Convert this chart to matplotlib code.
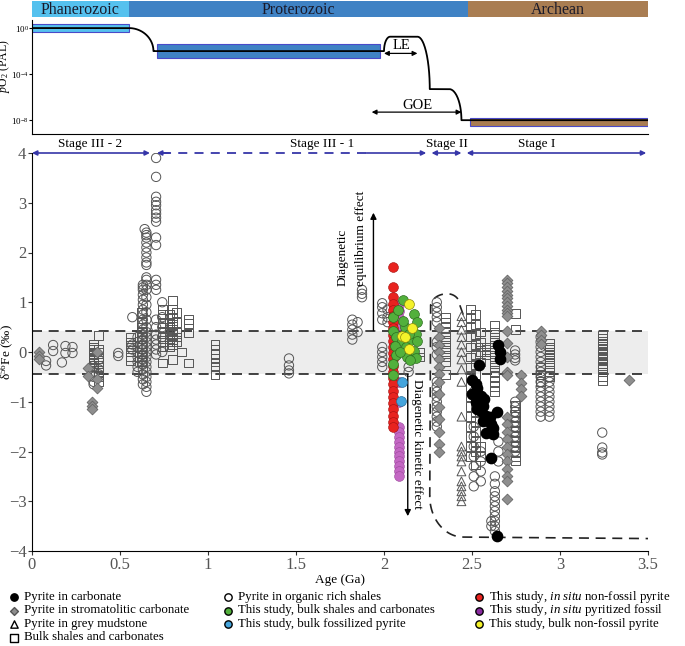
import numpy as np
import matplotlib.pyplot as plt
from matplotlib.patches import Rectangle

plt.rcParams['font.family'] = ['Liberation Serif', 'DejaVu Serif']
plt.rcParams['mathtext.fontset'] = 'custom'
plt.rcParams['mathtext.rm'] = 'Liberation Serif'
plt.rcParams['mathtext.it'] = 'Liberation Serif:italic'
plt.rcParams['mathtext.bf'] = 'Liberation Serif:bold'

# ---- eras / pO2 history (top panel) ----
era_names = ['Phanerozoic', 'Proterozoic', 'Archean']
era_bounds = [0.0, 0.55, 2.48, 3.5]
era_colors = ['#55C1EE', '#3F82C4', '#A97D52']

po2_box_age = [(0.0, 0.55), (0.71, 1.98), (2.49, 3.5)]
po2_box_log = [(-0.35, 0.38), (-2.56, -1.4), (-8.52, -7.77)]

# pO2 curve: (start age, end age, start log pO2, end log pO2, kind)
po2_segments = [
    (0.0, 0.55, 0.0, 0.0, 'flat'),
    (0.55, 0.69, 0.0, -2.0, 'down'),
    (0.69, 2.0, -2.0, -2.0, 'flat'),
    (2.0, 2.035, -2.0, -0.75, 'up'),
    (2.035, 2.19, -0.75, -0.75, 'flat'),
    (2.19, 2.26, -0.75, -5.3, 'down'),
    (2.26, 2.37, -5.3, -5.3, 'flat'),
    (2.37, 2.44, -5.3, -8.0, 'down'),
    (2.44, 3.5, -8.0, -8.0, 'flat'),
]

# ---- d56Fe data: (age Ga, [values]) ----
shale_cols = [  # pyrite in organic rich shales
    (0.08, [-0.18, -0.27]), (0.12, [0.14, 0.02]), (0.17, [-0.21]),
    (0.19, [0.12, -0.02]), (0.23, [0.1, -0.02]),
    (0.35, [-0.28, -0.4, -0.5, -0.6, -0.65]), (0.38, [-0.15, -0.35, -0.45]),
    (0.49, [-0.02, -0.08]), (0.57, [0.7, 0.15, 0.05]),
    (0.60, [0.3, 0.2, 0.1, 0.0, -0.1, -0.2, -0.3, -0.4]),
    (0.63, [1.35, 1.3, 1.25, 1.15, 1.05, 0.95, 0.85, 0.75, 0.65, 0.55, 0.45, 0.35,
            0.25, 0.15, 0.05, -0.05, -0.15, -0.25, -0.35, -0.45, -0.55, -0.65]),
    (0.64, [2.47]),
    (0.65, [2.4, 2.35, 2.3, 2.2, 2.1, 2.0, 1.9, 1.8, 1.75, 1.5, 1.45, 1.35, 1.25, 1.1,
            0.95, 0.8, 0.65, 0.5, 0.4, 0.3, 0.2, 0.1, 0.0, -0.1, -0.2, -0.3, -0.4,
            -0.5, -0.6, -0.7, -0.8]),
    (0.705, [3.9, 3.52, 3.12, 3.02, 2.95, 2.85, 2.78, 2.7, 2.62, 2.3, 2.15, 1.45,
             1.35, 1.25, 0.65, 0.5, 0.35, 0.25, 0.15, 0.05, -0.05]),
    (0.74, [1.0, 0.7, 0.5, 0.3, 0.0]),
    (1.46, [-0.13, -0.27, -0.37, -0.43]),
    (1.82, [0.65, 0.55, 0.45, 0.35, 0.25]), (1.85, [0.6, 0.4]),
    (1.875, [1.25, 1.17, 1.1]),
    (1.99, [0.98, 0.9, 0.78, 0.65, 0.1, 0.0, -0.1, -0.2, -0.3]),
    (2.02, [0.85, 0.7, 0.6]), (2.14, [-0.3, -0.4]),
    (2.30, [1.0, 0.9, 0.8, 0.7, 0.6, 0.2, 0.1, -0.05, -0.6, -0.7, -0.8, -0.9, -1.0,
            -1.1, -1.2, -1.3, -1.4, -1.5]),
    (2.51, [-0.6, -0.8, -1.5, -1.7, -1.9, -2.1, -2.3, -2.5, -2.7]),
    (2.55, [-2.0, -2.2, -2.4, -2.6]),
    (2.63, [-2.5, -2.65, -2.8, -2.9, -3.0, -3.1, -3.2, -3.3, -3.4, -3.5, -3.6]),
    (2.61, [-3.4, -3.5]), (2.65, [-1.8, -2.0, -2.2]),
    (2.745, [0.03, -0.05, -0.12, -0.17, -1.0, -1.1, -1.2, -1.3, -1.4, -1.5, -1.6,
             -1.7, -1.8, -1.9, -2.0]),
    (2.89, [0.3, 0.2, 0.1, 0.0, -0.1, -0.2, -0.3, -0.4, -0.5, -0.6, -0.7, -0.8,
            -0.9, -1.0, -1.1, -1.2, -1.3]),
    (2.94, [-0.5, -0.6, -0.7, -0.8, -0.9, -1.0, -1.1, -1.2, -1.3]),
    (3.24, [-1.62, -1.92, -2.02, -2.06]),
]

bulk_cols = [  # bulk shales and carbonates
    (0.35, [0.15, 0.1, 0.05, 0.0, -0.05, -0.1, -0.15, -0.2, -0.3]),
    (0.38, [0.33, 0.05, 0.0, -0.1, -0.2, -0.3, -0.4, -0.5, -0.6]),
    (0.56, [0.3, 0.2, 0.1, 0.0, -0.1, -0.17]),
    (0.62, [0.8, 0.6, 0.5, 0.4, 0.3, 0.1, 0.0, -0.1, -0.2]),
    (0.74, [0.85, 0.75, 0.6, 0.5, 0.4, 0.3, 0.2, 0.1, -0.22]),
    (0.78, [0.75, 0.6, 0.5, 0.4, 0.3, 0.2, 0.1]),
    (0.80, [1.04, 0.85, 0.7, 0.55, 0.45, 0.35, 0.25, 0.15, -0.15]),
    (0.82, [0.8, 0.6, 0.4, 0.3, 0.2]), (0.85, [0.0]),
    (0.89, [0.65, 0.58, 0.38, -0.22]),
    (1.04, [0.15, 0.05, -0.05, -0.12, -0.2, -0.3, -0.45]),
    (2.20, [0.0, -0.1]),
    (2.35, [0.7, 0.6, 0.5, 0.4, 0.3, 0.2, 0.1, 0.0, -0.1, -0.2, -0.45]),
    (2.49, [0.86, 0.7, 0.5, 0.3, 0.1, -0.1, -0.3, -0.5, -0.7, -0.9, -1.1, -1.3,
            -1.5, -1.7, -1.9, -2.1]),
    (2.52, [0.75, 0.55, 0.35, 0.15, -0.05, -0.25, -0.45, -1.0, -1.2, -1.4, -1.6,
            -1.8, -2.0, -2.27]),
    (2.55, [0.4, 0.2, 0.1, 0.0, -0.2, -1.9, -2.1]),
    (2.58, [0.1, 0.05, 0.0, -0.05]),
    (2.63, [0.53, 0.4, 0.3, 0.2, 0.1, 0.0, -0.1, -0.2, -0.3, -0.4, -0.5, -0.6,
            -0.7, -0.8]),
    (2.745, [0.78, 0.45, -1.08, -1.2, -1.3, -1.4, -1.5, -1.6, -1.7, -1.8, -1.9,
             -2.0, -2.1, -2.19]),
    (2.89, [-0.3, -0.45, -0.6]),
    (2.94, [0.17, 0.1, 0.05, 0.0, -0.05, -0.1, -0.2, -0.3, -0.4, -0.5]),
    (3.24, [0.33, 0.28, 0.22, 0.17, 0.12, 0.07, 0.02, -0.03, -0.08, -0.13, -0.18,
            -0.23, -0.28, -0.33, -0.4, -0.5, -0.57]),
]

strom_cols = [  # pyrite in stromatolitic carbonate
    (0.04, [0.0, -0.08, -0.15]), (0.32, [-0.33, -0.48]),
    (0.34, [-1.0, -1.08, -1.15]), (0.37, [0.0, -0.55, -0.72]),
    (2.31, [0.49, 0.3, 0.15, 0.0, -0.15, -0.3, -0.45, -0.6, -0.85, -1.1, -1.35,
            -1.6, -1.85, -2.0]),
    (2.70, [1.45, 1.38, 1.3, 1.22, 1.15, 1.08, 1.0, 0.92, 0.85, 0.78, 0.72, 0.43,
            0.19, -0.1, -0.41, -0.47, -1.3, -1.45, -1.6, -1.75, -1.9, -2.05, -2.2,
            -2.35, -2.5, -2.6, -2.96]),
    (2.78, [-0.47, -0.62, -0.75, -0.88]),
    (2.89, [0.43, 0.35, 0.25, 0.17]), (3.39, [-0.56]),
]

mud_cols = [  # pyrite in grey mudstone
    (2.44, [0.72, 0.6, 0.45, 0.3, 0.15, 0.0, -0.15, -0.35, -0.6, -1.3, -1.9, -2.0,
            -2.1, -2.2, -2.4, -2.6, -2.7, -2.8, -2.9, -3.0]),
]

carb_age = [2.54, 2.50, 2.52, 2.53, 2.50, 2.55, 2.52, 2.56, 2.55, 2.58, 2.56, 2.61,
            2.58, 2.64, 2.62, 2.65, 2.66, 2.66, 2.53, 2.57, 2.60, 2.62, 2.61, 2.64]
carb_d56 = [-0.27, -0.56, -0.65, -0.72, -0.84, -0.88, -1.0, -1.08, -1.18, -1.28,
            -1.38, -1.45, -1.62, -1.2, -1.52, 0.15, 0.0, -0.15, -1.15, -0.95, -1.3,
            -1.65, -2.13, -3.7]

# this study
fossil_age = 2.085
fossil_d56 = [0.95, 0.82, 0.68, 0.55, -0.6, -1.0, -1.5, -1.6, -1.7, -1.8, -1.9, -2.0,
              -2.1, -2.2, -2.3, -2.4, -2.5]
nonfossil_age = 2.05
nonfossil_d56 = [1.71, 1.31, 1.1, 0.97, 0.85, 0.72, 0.6, 0.48, 0.35, 0.22, 0.1, -0.02,
                 -0.15, -0.28, -0.4, -0.52, -0.65, -0.78, -0.9, -1.02, -1.15, -1.28,
                 -1.4, -1.5]
green_age = [2.11, 2.05, 2.17, 2.19, 2.12, 2.16, 2.05, 2.18, 2.07, 2.10, 2.14, 2.19,
             2.06, 2.125, 2.17, 2.07, 2.13, 2.18, 2.05, 2.15, 2.05, 2.11, 2.08, 2.14, 2.09]
green_d56 = [1.04, 0.70, 0.77, 0.60, 0.50, 0.47, 0.43, 0.37, 0.30, 0.23, 0.23, 0.22,
             0.13, 0.10, 0.03, -0.07, -0.10, -0.13, -0.24, -0.17, -0.47, 0.63, 0.85,
             0.37, 0.0]
bfoss_age = [2.10, 2.095]
bfoss_d56 = [-0.61, -0.98]
bnon_age = [2.14, 2.16, 2.10, 2.12, 2.14]
bnon_d56 = [0.97, 0.49, 0.33, 0.30, 0.06]

band_lo, band_hi = -0.45, 0.43

stage_labels = ['Stage III - 2', 'Stage III - 1', 'Stage II', 'Stage I']
stage_centers = [0.33, 1.65, 2.36, 2.87]


def expand(cols):
    xs, ys = [], []
    for a, vals in cols:
        xs += [a] * len(vals)
        ys += vals
    return xs, ys


def seg_curve(x0, x1, y0, y1, kind):
    t = np.linspace(0, np.pi / 2, 40)
    if kind == 'flat':
        return np.array([x0, x1]), np.array([y0, y1])
    if kind == 'down':  # leaves horizontally, arrives vertically
        return x0 + (x1 - x0) * np.sin(t), y1 + (y0 - y1) * np.cos(t)
    return x0 + (x1 - x0) * (1 - np.cos(t)), y0 + (y1 - y0) * np.sin(t)


fig = plt.figure(figsize=(6.85, 6.46), dpi=100)
L, W = 32 / 685, 616 / 685
ax_era = fig.add_axes([L, 629 / 646, W, 16 / 646])
ax_o2 = fig.add_axes([L, 512 / 646, W, 114 / 646])
ax = fig.add_axes([L, 95 / 646, W, 398 / 646])

# era bar
for i, name in enumerate(era_names):
    ax_era.add_patch(Rectangle((era_bounds[i], 0), era_bounds[i + 1] - era_bounds[i], 1,
                               facecolor=era_colors[i], edgecolor='none'))
    ax_era.text((era_bounds[i] + era_bounds[i + 1]) / 2, 0.45, name, ha='center',
                va='center', fontsize=11.5, color='#1a1a2a')
ax_era.set_xlim(0, 3.5)
ax_era.set_ylim(0, 1)
ax_era.axis('off')

# pO2 panel
for (a0, a1), (l0, l1), c in zip(po2_box_age, po2_box_log, era_colors):
    ax_o2.add_patch(Rectangle((a0, 10 ** l0), a1 - a0, 10 ** l1 - 10 ** l0,
                              facecolor=c, edgecolor='#4a4ac8', lw=0.8))
cx, cy = [], []
for s in po2_segments:
    sx, sy = seg_curve(*s)
    cx.append(sx)
    cy.append(sy)
cx = np.concatenate(cx)
cy = np.concatenate(cy)
ax_o2.plot(cx, 10 ** cy, color='black', lw=1.3, zorder=3)
ax_o2.set_yscale('log')
ax_o2.set_xlim(0, 3.5)
ax_o2.set_ylim(10 ** -9.2, 10 ** 0.7)
ax_o2.set_yticks([1e0, 1e-4, 1e-8])
ax_o2.set_yticklabels([r'10$^0$', r'10$^{-4}$', r'10$^{-8}$'], fontsize=6.5)
ax_o2.minorticks_off()
ax_o2.tick_params(axis='y', length=2, pad=0.5)
ax_o2.set_xticks([])
ax_o2.spines['top'].set_visible(False)
ax_o2.spines['right'].set_visible(False)
ax_o2.set_ylabel(r'$\it{p}$O$_2$ (PAL)', fontsize=8.5)
ax_o2.yaxis.set_label_coords(-0.033, 0.6)
arr = dict(arrowstyle='<|-|>', color='black', lw=0.9, mutation_scale=7,
           shrinkA=0, shrinkB=0)
ax_o2.annotate('', xy=(2.0, 10 ** -2.2), xytext=(2.19, 10 ** -2.2), arrowprops=arr)
ax_o2.text(2.1, 10 ** -1.55, 'LE', ha='center', va='center', fontsize=10.5)
ax_o2.annotate('', xy=(1.93, 10 ** -7.3), xytext=(2.44, 10 ** -7.3), arrowprops=arr)
ax_o2.text(2.19, 10 ** -6.75, 'GOE', ha='center', va='center', fontsize=10.5)

# main panel
ax.axhspan(band_lo, band_hi, color='#EDEDED', lw=0, zorder=0)
for yv in (band_lo, band_hi):
    ax.axhline(yv, color='#222222', lw=1.2, ls=(0, (6, 4)), zorder=1)

sx, sy = expand(bulk_cols)
ax.scatter(sx, sy, marker='s', s=40, facecolor='none', edgecolor='#555555', lw=0.7, zorder=2)
sx, sy = expand(shale_cols)
ax.scatter(sx, sy, marker='o', s=45, facecolor='none', edgecolor='#555555', lw=0.7, zorder=2)
sx, sy = expand(mud_cols)
ax.scatter(sx, sy, marker='^', s=40, facecolor='none', edgecolor='#555555', lw=0.7, zorder=2)
sx, sy = expand(strom_cols)
ax.scatter(sx, sy, marker='D', s=30, facecolor='#8E8E8E', edgecolor='#666666', lw=0.6, zorder=3)
ax.scatter(carb_age, carb_d56, marker='o', s=55, color='black', zorder=4)

ax.scatter([fossil_age] * len(fossil_d56), fossil_d56, s=50, color='#C467C4',
           edgecolor='#9a4a9a', lw=0.4, zorder=5)
ax.scatter([nonfossil_age] * len(nonfossil_d56), nonfossil_d56, s=50, color='#E8231F',
           edgecolor='#a01010', lw=0.4, zorder=6)
ax.scatter(green_age, green_d56, s=50, color='#52B03C', edgecolor='#2e6e20', lw=0.5, zorder=7)
ax.scatter(bfoss_age, bfoss_d56, s=50, color='#45A5DD', edgecolor='#2a6f9a', lw=0.5, zorder=8)
ax.scatter(bnon_age, bnon_d56, s=50, color='#F4F22A', edgecolor='#8a8a10', lw=0.5, zorder=8)

# enclosure of Archean lower values
t = np.linspace(0, np.pi / 2, 30)
ex = np.concatenate([
    [2.45, 2.43],
    2.36 + 0.07 * np.cos(t),
    2.36 - 0.09 * np.sin(t),
    [2.265, 2.26],
    2.45 - 0.19 * np.cos(t),
    [3.5]])
ey = np.concatenate([
    [0.75, 0.95],
    0.95 + 0.22 * np.sin(t),
    0.95 + 0.22 * np.cos(t),
    [0.95, -2.9],
    -2.9 - 0.82 * np.sin(t),
    [-3.75]])
ax.plot(ex, ey, color='#222222', lw=1.2, ls=(0, (6, 4)), zorder=1)

# diagenetic arrows
ax.annotate('', xy=(1.94, 2.8), xytext=(1.94, band_hi),
            arrowprops=dict(arrowstyle='-|>', color='black', lw=1.0, mutation_scale=9,
                            shrinkA=0, shrinkB=0))
ax.text(1.765, 1.32, 'Diagenetic', rotation=90, ha='center', va='bottom', fontsize=9.5)
ax.text(1.87, 1.32, 'equilibrium effect', rotation=90, ha='center', va='bottom', fontsize=9.5)
ax.annotate('', xy=(2.135, -3.3), xytext=(2.135, band_lo),
            arrowprops=dict(arrowstyle='-|>', color='black', lw=1.0, mutation_scale=9,
                            shrinkA=0, shrinkB=0))
ax.text(2.19, -0.55, 'Diagenetic kinetic effect', rotation=270, ha='center', va='top',
        fontsize=9.5)

# stage arrows
sc = '#3636A8'
sarr = dict(arrowstyle='<|-|>', color=sc, lw=1.2, mutation_scale=7, shrinkA=0, shrinkB=0)
ax.annotate('', xy=(0.0, 4), xytext=(0.67, 4), arrowprops=sarr, annotation_clip=False)
ax.plot([0.74, 1.9], [4, 4], color=sc, lw=1.3, ls=(0, (5, 4)), clip_on=False)
ax.annotate('', xy=(0.71, 4), xytext=(0.78, 4), annotation_clip=False,
            arrowprops=dict(arrowstyle='-|>', color=sc, lw=1.2, mutation_scale=7,
                            shrinkA=0, shrinkB=0))
ax.annotate('', xy=(2.24, 4), xytext=(1.9, 4), annotation_clip=False,
            arrowprops=dict(arrowstyle='-|>', color=sc, lw=1.2, mutation_scale=7,
                            shrinkA=0, shrinkB=0))
ax.annotate('', xy=(2.27, 4), xytext=(2.44, 4), arrowprops=sarr, annotation_clip=False)
ax.annotate('', xy=(2.47, 4), xytext=(3.49, 4), arrowprops=sarr, annotation_clip=False)
for lab, xc in zip(stage_labels, stage_centers):
    ax.text(xc, 4.07, lab, ha='center', va='bottom', fontsize=9.5)

ax.set_xlim(0, 3.5)
ax.set_ylim(-4, 4)
ax.set_xticks(np.arange(0, 3.51, 0.5))
ax.set_xticklabels(['0', '0.5', '1', '1.5', '2', '2.5', '3', '3.5'])
ax.set_yticks(range(-4, 5))
ax.tick_params(labelsize=12, labelcolor='#555555', length=3, color='#333333', pad=1)
ax.spines['top'].set_visible(False)
ax.spines['right'].set_visible(False)
ax.set_xlabel('Age (Ga)', fontsize=9.5, labelpad=1)
ax.set_ylabel(r'δ$^{56}$Fe (‰)', fontsize=9.5)
ax.yaxis.set_label_coords(-0.026, 0.5)

# legend
leg_labels = ['Pyrite in carbonate', 'Pyrite in stromatolitic carbonate',
              'Pyrite in grey mudstone', 'Bulk shales and carbonates',
              'Pyrite in organic rich shales', 'This study, bulk shales and carbonates',
              'This study, bulk fossilized pyrite',
              r'This study, $\it{in\ situ}$ non-fossil pyrite',
              r'This study, $\it{in\ situ}$ pyritized fossil',
              'This study, bulk non-fossil pyrite']
leg_marker = ['o', 'D', '^', 's', 'o', 'o', 'o', 'o', 'o', 'o']
leg_face = ['black', '#8E8E8E', 'white', 'white', 'white', '#52B03C', '#45A5DD',
            '#E8231F', '#8A2BA0', '#F4F22A']
leg_col = [0, 0, 0, 0, 1, 1, 1, 2, 2, 2]
leg_row = [0, 1, 2, 3, 0, 1, 2, 0, 1, 2]
col_x = [14, 228, 479]
row_y = [597, 610.5, 624, 637.5]

lax = fig.add_axes([0, 0, 1, 1], zorder=-1)
lax.set_xlim(0, 685)
lax.set_ylim(646, 0)
lax.axis('off')
for lab, m, fc, c, r in zip(leg_labels, leg_marker, leg_face, leg_col, leg_row):
    lax.scatter(col_x[c], row_y[r], marker=m, s=28 if m != 'D' else 16, facecolor=fc,
                edgecolor='black' if m != 'D' else '#555555', lw=1.0)
    lax.text(col_x[c] + 10, row_y[r], lab, ha='left', va='center', fontsize=9.3)

fig.savefig('out.png', dpi=100)
